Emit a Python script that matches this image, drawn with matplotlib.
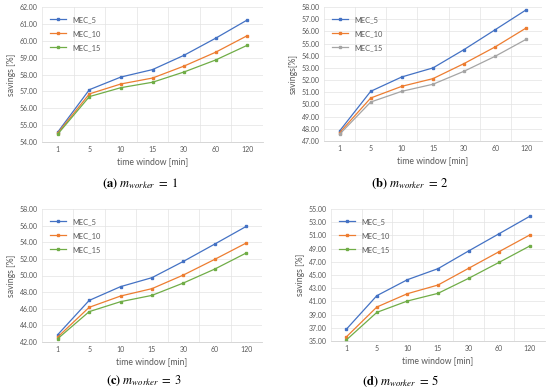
import matplotlib.pyplot as plt
import numpy as np

# Shared categories
windows = ["1", "5", "10", "15", "30", "60", "120"]
series_names = ["MEC_5", "MEC_10", "MEC_15"]

# Savings [%] per panel
a_mec5 = [54.59, 57.10, 57.85, 58.29, 59.14, 60.15, 61.23]
a_mec10 = [54.53, 56.85, 57.44, 57.79, 58.50, 59.32, 60.30]
a_mec15 = [54.47, 56.69, 57.22, 57.54, 58.15, 58.86, 59.73]

b_mec5 = [47.82, 51.08, 52.26, 53.00, 54.51, 56.14, 57.78]
b_mec10 = [47.68, 50.53, 51.49, 52.12, 53.36, 54.73, 56.29]
b_mec15 = [47.55, 50.20, 51.08, 51.66, 52.73, 53.96, 55.36]

c_mec5 = [42.88, 47.00, 48.66, 49.74, 51.70, 53.79, 55.91]
c_mec10 = [42.60, 46.17, 47.53, 48.42, 50.06, 51.95, 53.91]
c_mec15 = [42.40, 45.65, 46.85, 47.61, 49.10, 50.78, 52.71]

d_mec5 = [36.77, 41.87, 44.29, 45.96, 48.64, 51.26, 53.89]
d_mec10 = [35.61, 40.15, 42.17, 43.48, 46.01, 48.54, 51.06]
d_mec15 = [35.15, 39.34, 41.06, 42.22, 44.49, 46.92, 49.39]

a_ticks = np.arange(54, 62.01, 1)
b_ticks = np.arange(47, 58.01, 1)
c_ticks = np.arange(42, 58.01, 2)
d_ticks = np.arange(35, 55.01, 2)

plt.rcParams['font.family'] = ['Lato', 'DejaVu Sans']
plt.rcParams['mathtext.fontset'] = 'stix'

BLUE = '#4472C4'
ORANGE = '#ED7D31'
GREEN = '#70AD47'
GRAY = '#A5A5A5'
TXT = '#595959'


def draw_panel(fig, rect, data, colors, yticks, ylabel, caption, cap_xy):
    """ Draw one Excel-style line chart """
    ax = fig.add_axes(rect)
    x = np.arange(len(windows))
    for values, name, color in zip(data, series_names, colors):
        ax.plot(x, values, color=color, linewidth=0.9, marker='s',
                markersize=1.8, label=name)

    ax.set_xlim(-0.5, len(windows) - 0.5)
    ax.set_ylim(yticks[0], yticks[-1])
    ax.set_xticks(x)
    ax.set_xticklabels(windows)
    ax.set_yticks(yticks)
    ax.set_yticklabels([f"{t:.2f}" for t in yticks])
    ax.set_xticks(np.arange(-0.5, len(windows), 1), minor=True)
    ax.tick_params(which='both', length=0, labelsize=5, colors=TXT, pad=3)

    # Gridlines
    ax.grid(True, axis='y', color='#E3E3E3', linewidth=0.5)
    ax.grid(True, axis='x', which='minor', color='#E3E3E3', linewidth=0.5)
    for side in ['top', 'right', 'left']:
        ax.spines[side].set_visible(False)
    ax.spines['bottom'].set_color('#D0D0D0')
    ax.spines['bottom'].set_linewidth(0.6)

    ax.set_xlabel('time window [min]', fontsize=6.2, color=TXT, labelpad=3)
    ax.set_ylabel(ylabel, fontsize=6.2, color=TXT, labelpad=3)

    leg = ax.legend(loc='upper left', frameon=False, fontsize=5.4,
                    handlelength=2.2, labelspacing=0.95, borderaxespad=0.6,
                    bbox_to_anchor=(0.0, 0.99))
    for t in leg.get_texts():
        t.set_color(TXT)

    fig.text(cap_xy[0] / 550, 1 - cap_xy[1] / 392, caption, fontsize=9,
             ha='center', va='center')
    return ax


fig = plt.figure(figsize=(5.5, 3.92), dpi=100)

draw_panel(fig, [42 / 550, 250 / 392, 221 / 550, 135 / 392],
           [a_mec5, a_mec10, a_mec15], [BLUE, ORANGE, GREEN], a_ticks,
           'savings [%]', r'$\mathbf{(a)}\ m_{worker}\;=\;1$', (140, 184))
draw_panel(fig, [324 / 550, 251 / 392, 218 / 550, 134 / 392],
           [b_mec5, b_mec10, b_mec15], [BLUE, ORANGE, GRAY], b_ticks,
           'savings[%]', r'$\mathbf{(b)}\ m_{worker}\;=\;2$', (410, 184))
draw_panel(fig, [42 / 550, 50 / 392, 220 / 550, 133 / 392],
           [c_mec5, c_mec10, c_mec15], [BLUE, ORANGE, GREEN], c_ticks,
           'savings [%]', r'$\mathbf{(c)}\ m_{worker}\;=\;3$', (144, 381))
draw_panel(fig, [331 / 550, 51 / 392, 214 / 550, 132 / 392],
           [d_mec5, d_mec10, d_mec15], [BLUE, ORANGE, GREEN], d_ticks,
           'savings [%]', r'$\mathbf{(d)}\ m_{worker}\;=\;5$', (401, 381))

fig.savefig('out.png', dpi=100)
